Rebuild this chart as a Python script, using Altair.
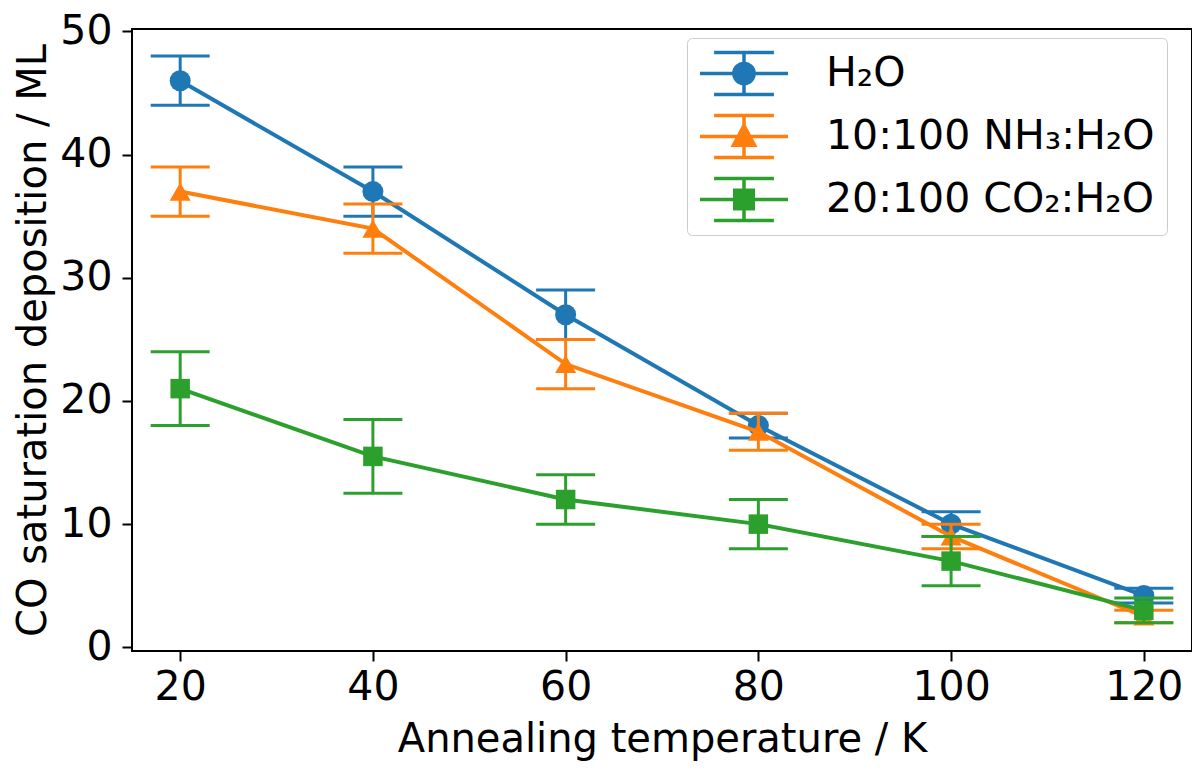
import pandas as pd
import altair as alt

# Annealing temperature (K) and CO saturation deposition (ML) per ice
temps = [20, 40, 60, 80, 100, 120]
series_names = ['H₂O', '10:100 NH₃:H₂O', '20:100 CO₂:H₂O']

h2o = [46, 37, 27, 18, 10, 4.2]
h2o_err = [2, 2, 2, 1, 1, 0.6]
nh3 = [37, 34, 23, 17.5, 9, 2.5]
nh3_err = [2, 2, 2, 1.5, 1, 0.5]
co2 = [21, 15.5, 12, 10, 7, 3]
co2_err = [3, 3, 2, 2, 2, 1]

colors = ['#1f77b4', '#ff7f0e', '#2ca02c']
markers = ['circle', 'triangle-up', 'square']
marker_sizes = [441, 441, 380]

# legend glyphs: errorbar cross + marker, as custom symbol paths
bar_path = 'M-2,0L2,0M0,-0.96L0,0.96M-1.36,-0.96L1.36,-0.96M-1.36,0.96L1.36,0.96'
legend_paths = [
    bar_path + 'M0.46,0A0.46,0.46 0 1,1 -0.46,0A0.46,0.46 0 1,1 0.46,0Z',
    bar_path + 'M0,-0.5L0.48,0.4L-0.48,0.4Z',
    bar_path + 'M-0.42,-0.42L0.42,-0.42L0.42,0.42L-0.42,0.42Z',
]

values = [h2o, nh3, co2]
errors = [h2o_err, nh3_err, co2_err]

X = alt.X('temp:Q', scale=alt.Scale(domain=[15, 125], nice=False, zero=False),
          title='Annealing temperature / K',
          axis=alt.Axis(values=[20, 40, 60, 80, 100, 120], labelPadding=6, titlePadding=12))
Y = alt.Y('value:Q', scale=alt.Scale(domain=[-0.3, 50.2], nice=False, zero=False),
          title='CO saturation deposition / ML',
          axis=alt.Axis(values=[0, 10, 20, 30, 40, 50], labelPadding=10, titlePadding=6))

layers = []
for name, vals, errs, c, m, ms in zip(series_names, values, errors, colors, markers, marker_sizes):
    df = pd.DataFrame({'temp': temps, 'value': vals, 'err': errs})
    df['lo'] = df['value'] - df['err']
    df['hi'] = df['value'] + df['err']
    df['series'] = name
    base = alt.Chart(df)
    line = base.mark_line(color=c, strokeWidth=4).encode(x=X, y=Y)
    bars = base.mark_rule(color=c, strokeWidth=3).encode(x=X, y='lo:Q', y2='hi:Q')
    cap_lo = base.mark_tick(orient='horizontal', size=59, thickness=3, color=c, opacity=1).encode(
        x=X, y='lo:Q')
    cap_hi = base.mark_tick(orient='horizontal', size=59, thickness=3, color=c, opacity=1).encode(
        x=X, y='hi:Q')
    pts = base.mark_point(shape=m, filled=True, size=ms, color=c, opacity=1).encode(x=X, y=Y)
    layers += [line, bars, cap_lo, cap_hi, pts]

# legend only layer (no marks drawn)
legend = alt.Legend(title=None, orient='none', legendX=555, legendY=9,
                    symbolSize=1936, symbolStrokeWidth=3.5, symbolOpacity=1, symbolOffset=21,
                    labelFont='DejaVu Sans', labelFontSize=41, labelColor='black',
                    labelOffset=58, labelLimit=0, rowPadding=16, padding=12, clipHeight=47,
                    strokeColor='#cccccc', fillColor='white', cornerRadius=5)
ghost_df = pd.DataFrame({'series': series_names, 'temp': temps[:3], 'value': h2o[:3]})
ghost = alt.Chart(ghost_df).transform_filter('false').mark_point(
    filled=True, strokeWidth=3.5, opacity=1).encode(
    x=X, y=Y,
    fill=alt.Fill('series:N', scale=alt.Scale(domain=series_names, range=colors), legend=legend),
    stroke=alt.Stroke('series:N', scale=alt.Scale(domain=series_names, range=colors), legend=legend),
    shape=alt.Shape('series:N', scale=alt.Scale(domain=series_names, range=legend_paths), legend=legend),
)
layers.append(ghost)

chart = alt.layer(*layers).properties(
    width=1060,
    height=622,
    autosize=alt.AutoSizeParams(type='none'),
    padding={'left': 124, 'top': 21, 'right': 0, 'bottom': 110},
).configure_view(
    stroke='black', strokeWidth=2
).configure_axis(
    grid=False, domain=False,
    labelFont='DejaVu Sans', labelFontSize=41, labelColor='black',
    titleFont='DejaVu Sans', titleFontSize=40, titleFontWeight='normal', titleColor='black',
    tickColor='black', tickWidth=2, tickSize=10,
)

chart.save('out.html', embed_options={'renderer': 'svg', 'actions': False})
